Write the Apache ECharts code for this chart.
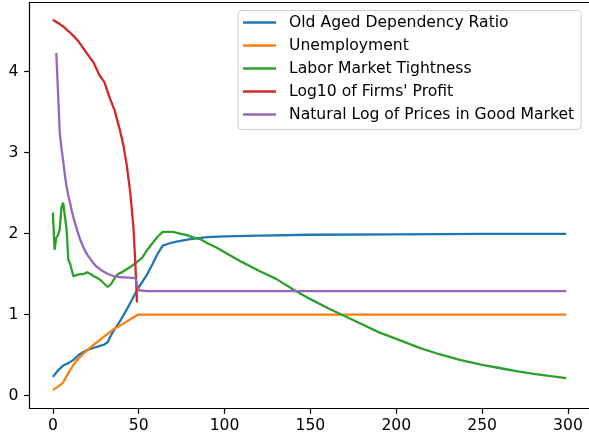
<!DOCTYPE html>
<html>
<head>
<meta charset="utf-8">
<script src="https://cdn.jsdelivr.net/npm/echarts@6/dist/echarts.min.js"></script>
<style>
html,body{margin:0;padding:0;background:#fff;overflow:hidden;}
#c{width:589px;height:440px;}
</style>
</head>
<body>
<div id="c"></div>
<script>
const seriesNames = ["Old Aged Dependency Ratio", "Unemployment", "Labor Market Tightness", "Log10 of Firms' Profit", "Natural Log of Prices in Good Market"];
const colors = ["#1f77b4", "#ff7f0e", "#2ca02c", "#d62728", "#9467bd"];
const xTicks = [0, 50, 100, 150, 200, 250, 300];
const yTicks = [0, 1, 2, 3, 4];

const oldAgeX = [0, 3, 6, 9, 12, 15, 18, 21, 24, 27, 30, 32, 34, 36, 38, 40, 43, 46, 49, 52, 55, 58, 61, 64, 68, 72, 80, 90, 100, 120, 150, 200, 250, 299];
const oldAgeY = [0.23, 0.31, 0.37, 0.40, 0.44, 0.50, 0.54, 0.57, 0.59, 0.61, 0.63, 0.66, 0.75, 0.82, 0.88, 0.95, 1.06, 1.18, 1.30, 1.40, 1.50, 1.62, 1.75, 1.85, 1.88, 1.90, 1.93, 1.955, 1.965, 1.975, 1.985, 1.99, 1.995, 1.995];

const unempX = [0, 3, 6, 8, 10, 12, 15, 18, 21, 24, 27, 30, 33, 36, 39, 42, 45, 48, 50, 299];
const unempY = [0.07, 0.11, 0.16, 0.24, 0.31, 0.38, 0.46, 0.52, 0.58, 0.63, 0.68, 0.73, 0.78, 0.83, 0.86, 0.90, 0.94, 0.98, 1.0, 1.0];

const tightX = [0, 1, 2, 3, 4, 5, 6, 7, 8, 9, 10, 11, 12, 13, 14, 15, 16, 18, 20, 22, 24, 26, 28, 30, 32, 34, 36, 38, 40, 43, 46, 49, 52, 55, 58, 61, 64, 67, 70, 74, 78, 82, 86, 90, 95, 100, 110, 120, 130, 140, 150, 160, 168, 180, 190, 200, 214, 225, 237, 250, 260, 270, 280, 290, 299];
const tightY = [2.26, 1.80, 1.95, 1.98, 2.05, 2.32, 2.38, 2.38, 2.05, 1.68, 1.63, 1.55, 1.47, 1.46, 1.49, 1.51, 1.50, 1.50, 1.52, 1.50, 1.47, 1.45, 1.42, 1.38, 1.34, 1.38, 1.45, 1.50, 1.52, 1.56, 1.60, 1.65, 1.70, 1.80, 1.88, 1.96, 2.02, 2.02, 2.02, 2.00, 1.98, 1.95, 1.93, 1.88, 1.83, 1.77, 1.65, 1.54, 1.44, 1.31, 1.19, 1.08, 1.0, 0.88, 0.78, 0.70, 0.585, 0.51, 0.44, 0.38, 0.34, 0.30, 0.268, 0.24, 0.215];

const profitX = [0, 3, 6, 9, 12, 15, 18, 21, 24, 27, 30, 33, 36, 39, 41, 43, 44, 45, 46, 47, 48, 49];
const profitY = [4.64, 4.60, 4.556, 4.50, 4.44, 4.37, 4.28, 4.19, 4.10, 3.96, 3.87, 3.68, 3.52, 3.28, 3.10, 2.85, 2.68, 2.52, 2.30, 2.05, 1.65, 1.15];

const priceX = [2, 3, 4, 5, 6, 7, 8, 9, 10, 11, 12, 14, 16, 18, 20, 22, 25, 28, 32, 36, 40, 44, 48, 49, 50, 55, 299];
const priceY = [4.23, 3.75, 3.25, 3.05, 2.90, 2.72, 2.58, 2.47, 2.38, 2.28, 2.20, 2.05, 1.92, 1.82, 1.74, 1.68, 1.60, 1.55, 1.50, 1.47, 1.46, 1.455, 1.45, 1.44, 1.30, 1.29, 1.29];

const xsList = [oldAgeX, unempX, tightX, profitX, priceX];
const ysList = [oldAgeY, unempY, tightY, profitY, priceY];

const font = 'DejaVu Sans';
const fs = 15.6;
const chart = echarts.init(document.getElementById('c'), null, {renderer: 'canvas'});
const series = seriesNames.map((name, i) => ({
  name: name,
  type: 'line',
  data: xsList[i].map((x, j) => [x, ysList[i][j]]),
  showSymbol: false,
  symbol: 'none',
  smooth: false,
  lineStyle: {color: colors[i], width: 2.3},
  itemStyle: {color: colors[i]},
  emphasis: {disabled: true},
  animation: false
}));

chart.setOption({
  animation: false,
  grid: {left: 29.5, width: 562.5, top: 2.5, bottom: 31.5, show: true, borderColor: '#000', borderWidth: 1.2, backgroundColor: 'transparent', containLabel: false, outerBoundsMode: 'none'},
  xAxis: {
    type: 'value', min: -13.6, max: 314,
    splitLine: {show: false},
    axisLine: {show: false, onZero: false},
    axisTick: {show: true, length: 5.4, lineStyle: {color: '#000', width: 1.2}, customValues: xTicks},
    axisLabel: {customValues: xTicks, color: '#000', fontFamily: font, fontSize: fs, margin: 9}
  },
  yAxis: {
    type: 'value', min: -0.16, max: 4.852,
    splitLine: {show: false},
    axisLine: {show: false, onZero: false},
    axisTick: {show: true, length: 5.4, lineStyle: {color: '#000', width: 1.2}, customValues: yTicks},
    axisLabel: {customValues: yTicks, color: '#000', fontFamily: font, fontSize: fs, margin: 11}
  },
  graphic: [{
    type: 'rect', z: 100, silent: true,
    shape: {x: 585.5, y: 4, width: 10, height: 403},
    style: {fill: '#ffffff'}
  }],
  legend: {
    orient: 'vertical',
    left: 238, top: 10.5,
    data: seriesNames,
    icon: 'rect',
    itemWidth: 33, itemHeight: 2.3,
    itemGap: 7,
    padding: [4, 7, 7, 5],
    backgroundColor: 'rgba(255,255,255,0.8)',
    borderColor: '#cccccc', borderWidth: 1, borderRadius: 4,
    selectedMode: false,
    textStyle: {fontFamily: font, fontSize: fs, color: '#000', lineHeight: 16, padding: [0, 0, 0, 8]}
  },
  series: series
});
</script>
</body>
</html>
